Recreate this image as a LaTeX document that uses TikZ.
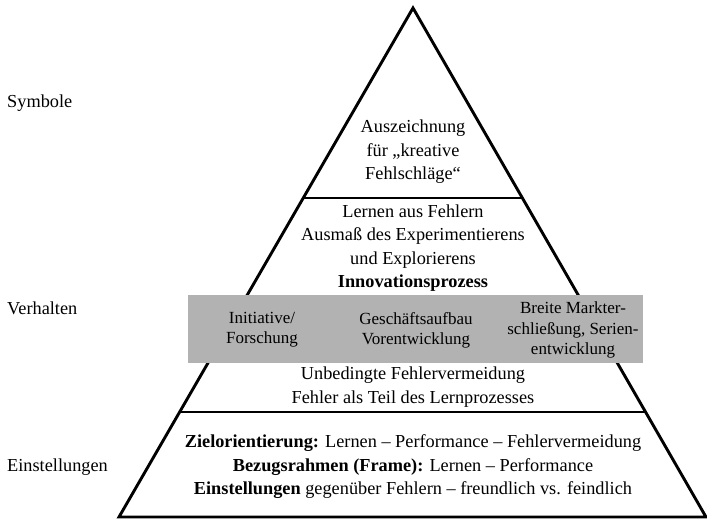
\documentclass[tikz,border=0pt]{standalone}
\usepackage{fontspec}
\setmainfont{Liberation Serif}
\usetikzlibrary{calc}
\begin{document}
\begin{tikzpicture}[x=1pt,y=-1pt,
  edge/.style={line width=2.9pt,line join=miter},
  txt/.style={align=center,font=\fontsize{18.3}{23.5}\selectfont,inner sep=0pt},
  bandtxt/.style={align=center,font=\fontsize{17}{20.2}\selectfont,inner sep=0pt},
  side/.style={anchor=west,font=\fontsize{18.3}{23.5}\selectfont,inner sep=0pt},
  band/.style={fill=black!30,draw=none}]
\useasboundingbox (0,0) rectangle (707,523);
% pyramid outline
\coordinate (A) at (413,8);
\coordinate (L) at (119,517);
\coordinate (R) at (706,517);
\draw[edge] (L) -- (A) -- (R) -- cycle;
% level dividers
\draw[edge] ($(A)!0.3733!(L)$) -- ($(A)!0.3733!(R)$);
\draw[edge] ($(A)!0.7937!(L)$) -- ($(A)!0.7937!(R)$);
% process band
\fill[band] (188,295) rectangle (643,363);
% level names
\node[side] (sym) at (7,103) {Symbole};
\node[side] (verh) at (7,308) {Verhalten};
\node[side] (einst) at (7,467) {Einstellungen};
% top level
\node[txt] (award) at (413,152) {Auszeichnung\\für „kreative\\Fehlschläge“};
% middle level
\node[txt] (learn) at (413,248) {Lernen aus Fehlern\\Ausmaß des Experimentierens\\und Explorierens\\\textbf{Innovationsprozess}};
\node[bandtxt] (init) at (262,330) {Initiative/\\Forschung};
\node[bandtxt] (build) at (416,330) {Geschäftsaufbau\\Vorentwicklung};
\node[bandtxt] (market) at (573,330) {Breite Markter-\\schließung, Serien-\\entwicklung};
\node[txt] (avoid) at (413,387) {Unbedingte Fehlervermeidung\\Fehler als Teil des Lernprozesses};
% bottom level
\node[txt] (goal) at (413,467) {\textbf{Zielorientierung:} Lernen – Performance – Fehlervermeidung\\\textbf{Bezugsrahmen (Frame):} Lernen – Performance\\\textbf{Einstellungen} gegenüber Fehlern – freundlich vs. feindlich};
\end{tikzpicture}
\end{document}
